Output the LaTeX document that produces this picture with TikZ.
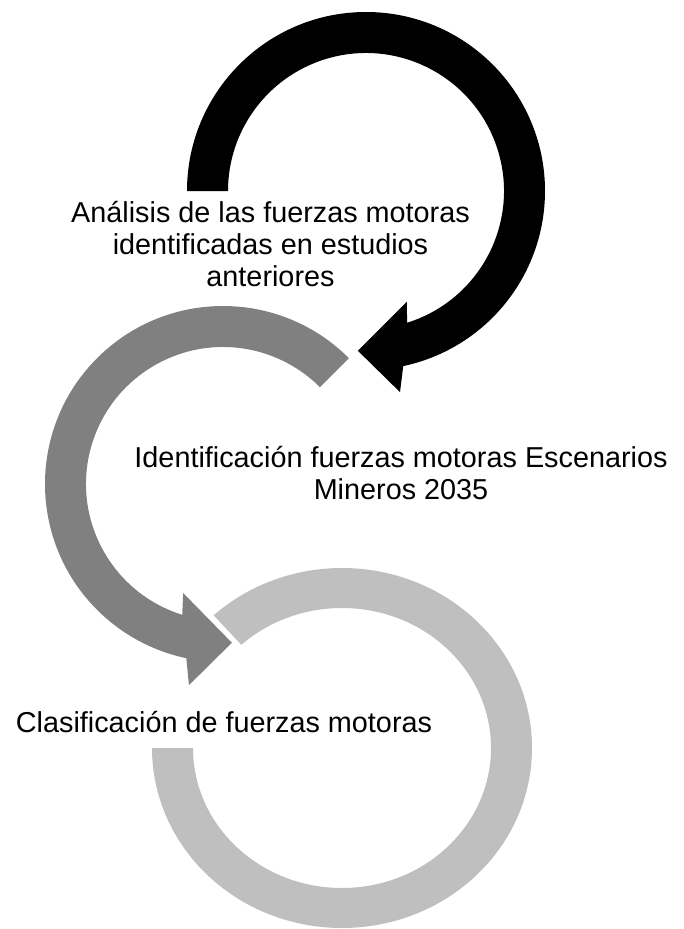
\documentclass[tikz,border=0pt]{standalone}
\usepackage{fontspec}
\setmainfont{Liberation Sans}
\usepackage{tikz}
\usetikzlibrary{calc}
\definecolor{grisoscuro}{HTML}{808080}
\definecolor{grisclaro}{HTML}{BFBFBF}
\tikzstyle{etiqueta} = [align=center, inner sep=0pt, font=\fontsize{21.6}{24}\selectfont]

\begin{document}
\begin{tikzpicture}[x=0.75pt, y=-0.75pt]
        \useasboundingbox (0,0) rectangle (684,929);
        \coordinate (CA) at (366,191);
        \coordinate (CB) at (223,484);
        \coordinate (CC) at (342,748);

        % tercer anillo, sin punta
        \fill[grisclaro] ($(CC)+(227.5:190 and 180)$) arc[start angle=227.5, end angle=540, x radius=190, y radius=180]
            -- ($(CC)+(540:149 and 140)$) arc[start angle=540, end angle=227.5, x radius=149, y radius=140] -- cycle;

        % segundo anillo
        \fill[grisoscuro] ($(CB)+(-45:178)$) arc[start angle=-45, end angle=-258.1, radius=178]
            -- ($(CB)+(-260.4:204)$) -- ($(CB)+(-273.2:159)$) -- ($(CB)+(-249.9:116)$)
            -- ($(CB)+(-252.7:137)$) arc[start angle=-252.7, end angle=-45, radius=137] -- cycle;

        % primer anillo
        \fill[black] ($(CA)+(180:179)$) arc[start angle=180, end angle=438, radius=179]
            -- ($(CA)+(440.4:204)$) -- ($(CA)+(452.9:160)$) -- ($(CA)+(429.7:118)$)
            -- ($(CA)+(432.7:138)$) arc[start angle=432.7, end angle=180, radius=138] -- cycle;

        \node[etiqueta] (Analisis) at (270.5,244.5) {Análisis de las fuerzas motoras\\identificadas en estudios\\anteriores};
        \node[etiqueta] (Identificacion) at (401,473) {Identificación fuerzas motoras Escenarios\\Mineros 2035};
        \node[etiqueta, anchor=base] (Clasificacion) at (224,732) {Clasificación de fuerzas motoras};

    \end{tikzpicture}
\end{document}
